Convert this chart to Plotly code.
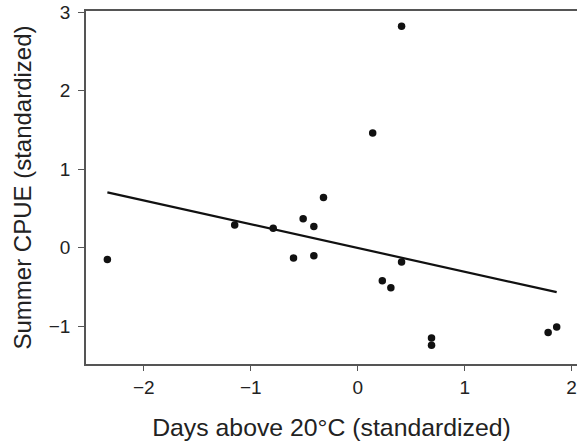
import plotly.graph_objects as go

# Data
days_above_20 = [-2.34, -1.15, -0.79, -0.60, -0.51, -0.41, -0.41, -0.32, 0.14, 0.41, 0.41, 0.23, 0.31, 0.69, 0.69, 1.78, 1.86]
summer_cpue = [-0.15, 0.29, 0.25, -0.13, 0.37, 0.27, -0.10, 0.64, 1.46, 2.82, -0.18, -0.42, -0.51, -1.15, -1.24, -1.08, -1.01]
fit_x = [-2.34, 1.86]
fit_y = [0.705, -0.565]

x_ticks = [-2, -1, 0, 1, 2]
y_ticks = [-1, 0, 1, 2, 3]

FONT = "Liberation Sans, Arial, sans-serif"
TXT = "#222222"
AX = "#555555"

fig = go.Figure()
fig.add_trace(go.Scatter(x=fit_x, y=fit_y, mode="lines",
                         line=dict(color="#111111", width=2.2), showlegend=False))
fig.add_trace(go.Scatter(x=days_above_20, y=summer_cpue, mode="markers",
                         marker=dict(color="#111111", size=7.5), showlegend=False))

fig.update_layout(
    width=577, height=443,
    margin=dict(l=86, r=0, t=11, b=79),
    paper_bgcolor="white", plot_bgcolor="white",
    font=dict(family=FONT, color=TXT, size=19),
    xaxis=dict(range=[-2.54, 2.05], tickvals=x_ticks, ticks="outside", ticklen=5,
               tickwidth=1.2, tickcolor=AX, showline=True, linecolor=AX, linewidth=1.5,
               mirror=True, showgrid=False, zeroline=False, automargin=False,
               ticklabeloverflow="allow",
               tickfont=dict(size=19, color=TXT),
               title=dict(text="Days above 20°C (standardized)", font=dict(size=24.8, color=TXT),
                          standoff=22)),
    yaxis=dict(range=[-1.48, 3.015], tickvals=y_ticks, ticks="outside", ticklen=6,
               tickwidth=1.2, tickcolor=AX, showline=True, linecolor=AX, linewidth=1.5,
               showgrid=False, zeroline=False, automargin=False,
               ticklabeloverflow="allow", ticklabelstandoff=4,
               tickfont=dict(size=19, color=TXT),
               title=dict(text="Summer CPUE (standardized)", font=dict(size=24, color=TXT),
                          standoff=10)),
)

# remove the default 8px page margin so the figure fills the window exactly
fig.write_html("out.html", config={"displayModeBar": False},
               post_script="document.body.style.margin='0';")
